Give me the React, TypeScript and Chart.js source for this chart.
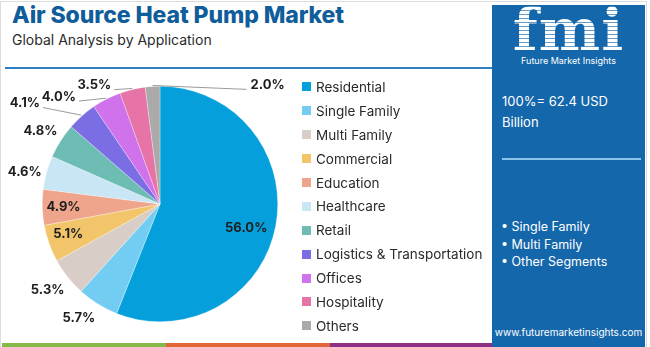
import React, { useEffect, useRef } from "react";
import { Chart, registerables } from "chart.js";

Chart.register(...registerables);

const categories = [
  "Residential",
  "Single Family",
  "Multi Family",
  "Commercial",
  "Education",
  "Healthcare",
  "Retail",
  "Logistics & Transportation",
  "Offices",
  "Hospitality",
  "Others",
];
const shares = [56.0, 5.7, 5.3, 5.1, 4.9, 4.6, 4.8, 4.1, 4.0, 3.5, 2.0];
const colors = [
  "#05a0db",
  "#73cdf2",
  "#d8cdc7",
  "#f2c56b",
  "#eea58c",
  "#c8e6f4",
  "#6ebdb5",
  "#7b6de3",
  "#cf72ec",
  "#e674a6",
  "#aaaaaa",
];
const sidePoints = ["Single Family", "Multi Family", "Other Segments"];

// label placement: radius factor and angular shift (deg) relative to slice middle
const labelF = [0.76, 1.19, 1.2, 0.82, 0.82, 1.18, 1.19, 1.43, 1.25, 1.15, 1.36];
const labelShift = [4.8, 3.5, 1, 1.5, 0, -2.2, -1, -11.8, -16.4, -15.5, 45.8];
const leader = [false, false, false, false, false, false, false, true, true, true, true];

const FONT = "Inter, 'Noto Sans', sans-serif";

const labelPlugin = {
  id: "pctLabels",
  afterDatasetsDraw(chart: any) {
    const ctx = chart.ctx;
    const meta = chart.getDatasetMeta(0);
    ctx.save();
    ctx.font = `700 13px ${FONT}`;
    ctx.textAlign = "center";
    ctx.textBaseline = "middle";
    meta.data.forEach((arc: any, i: number) => {
      const { x, y, startAngle, endAngle, outerRadius } = arc.getProps(
        ["x", "y", "startAngle", "endAngle", "outerRadius"],
        true
      );
      const mid = (startAngle + endAngle) / 2;
      const a = mid + (labelShift[i] * Math.PI) / 180;
      const lx = x + Math.cos(a) * outerRadius * labelF[i];
      const ly = y + Math.sin(a) * outerRadius * labelF[i];
      const txt = shares[i].toFixed(1) + "%";
      const w = ctx.measureText(txt).width;
      if (leader[i]) {
        const sx = x + Math.cos(mid) * (outerRadius + 1);
        const sy = y + Math.sin(mid) * (outerRadius + 1);
        const ex = lx < x ? lx + w / 2 + 3 : lx - w / 2 - 4;
        const ey = ly + 4;
        ctx.strokeStyle = "#9a9a9a";
        ctx.lineWidth = 1;
        ctx.beginPath();
        ctx.moveTo(sx, sy);
        ctx.lineTo(ex, ey);
        ctx.stroke();
      }
      ctx.fillStyle = "#1e1e1e";
      ctx.fillText(txt, lx, ly);
    });
    ctx.restore();
  },
};

function PieChart() {
  const ref = useRef<HTMLCanvasElement | null>(null);
  useEffect(() => {
    if (!ref.current) return;
    const chart = new Chart(ref.current, {
      type: "pie",
      data: {
        labels: categories,
        datasets: [
          {
            data: shares,
            backgroundColor: colors,
            borderColor: "rgba(255,255,255,0.6)",
            borderWidth: 0.5,
          },
        ],
      },
      options: {
        responsive: false,
        animation: false,
        layout: { padding: { top: 16, bottom: 16, left: 16, right: 16 } },
        plugins: {
          legend: { display: false },
          tooltip: { enabled: false },
        },
      },
      plugins: [labelPlugin],
    });
    return () => chart.destroy();
  }, []);
  return (
    <canvas
      ref={ref}
      width={320}
      height={268}
      style={{ position: "absolute", left: 0, top: 70, width: 320, height: 268 }}
    />
  );
}

export default function App() {
  return (
    <div
      style={{
        position: "fixed",
        left: 0,
        top: 0,
        width: 650,
        height: 347,
        background: "#ffffff",
        overflow: "hidden",
        fontFamily: FONT,
      }}
    >
      {/* outer border */}
      <div
        style={{
          position: "absolute",
          left: 0,
          top: 1,
          width: 647,
          height: 346,
          borderLeft: "1px solid #dcdcdc",
          borderTop: "1px solid #dcdcdc",
          borderRight: "1px solid #dcdcdc",
          boxSizing: "border-box",
        }}
      />
      <div
        style={{
          position: "absolute",
          left: 12,
          top: 1,
          fontSize: 23,
          fontWeight: 800,
          color: "#0f5d9a",
          whiteSpace: "nowrap",
          letterSpacing: -0.1,
        }}
      >
        Air Source Heat Pump Market
      </div>
      <div
        style={{
          position: "absolute",
          left: 12,
          top: 31,
          fontSize: 14,
          color: "#2a2a2a",
          whiteSpace: "nowrap",
        }}
      >
        Global Analysis by Application
      </div>
      <div
        style={{
          position: "absolute",
          left: 5,
          top: 67,
          width: 490,
          height: 2,
          background: "#2f7fc0",
        }}
      />

      <PieChart />

      {/* legend */}
      <div style={{ position: "absolute", left: 302, top: 75 }}>
        {categories.map((c, i) => (
          <div
            key={c}
            style={{
              display: "flex",
              alignItems: "center",
              height: 23.9,
              fontSize: 13.5,
              color: "#2a2a2a",
              whiteSpace: "nowrap",
            }}
          >
            <span
              style={{
                display: "inline-block",
                width: 9,
                height: 9,
                background: colors[i],
                marginRight: 5,
              }}
            />
            {c}
          </div>
        ))}
      </div>

      {/* bottom strips */}
      <div style={{ position: "absolute", left: 2, top: 343, width: 164, height: 4, background: "#86b94a" }} />
      <div style={{ position: "absolute", left: 166, top: 343, width: 164, height: 4, background: "#e0663a" }} />
      <div style={{ position: "absolute", left: 330, top: 343, width: 163, height: 4, background: "#8e2f86" }} />

      {/* right panel */}
      <div
        style={{
          position: "absolute",
          left: 492,
          top: 5,
          width: 153,
          height: 342,
          background: "#1567ab",
          color: "#ffffff",
        }}
      >
        <div
          style={{
            position: "absolute",
            left: 0,
            width: 153,
            top: -6,
            textAlign: "center",
            fontFamily: "'DejaVu Serif', 'Liberation Serif', serif",
            fontWeight: 900,
            fontSize: 58,
            lineHeight: "62px",
            letterSpacing: 1,
            backgroundImage:
              "repeating-linear-gradient(180deg, #ffffff 0px, #ffffff 3px, rgba(255,255,255,0.35) 3px, rgba(255,255,255,0.35) 4px)",
            WebkitBackgroundClip: "text",
            backgroundClip: "text",
            WebkitTextFillColor: "transparent",
          }}
        >
          fmi
        </div>
        <div
          style={{
            position: "absolute",
            left: 0,
            width: 153,
            top: 50,
            textAlign: "center",
            fontSize: 9,
            whiteSpace: "nowrap",
          }}
        >
          Future Market Insights
        </div>
        <div style={{ position: "absolute", left: 10, top: 86, fontSize: 13, lineHeight: "21px" }}>
          100%= 62.4 USD
          <br />
          Billion
        </div>
        <div
          style={{
            position: "absolute",
            left: 10,
            top: 153,
            width: 139,
            height: 2,
            background: "#8cc4ec",
          }}
        />
        <div style={{ position: "absolute", left: 9, top: 213, fontSize: 12.5, lineHeight: "17.5px" }}>
          {sidePoints.map((p) => (
            <div key={p} style={{ whiteSpace: "nowrap" }}>
              {"\u2022 " + p}
            </div>
          ))}
        </div>
        <div
          style={{
            position: "absolute",
            left: 0,
            width: 153,
            top: 321,
            textAlign: "center",
            fontSize: 10,
            whiteSpace: "nowrap",
          }}
        >
          www.futuremarketinsights.com
        </div>
      </div>
    </div>
  );
}
